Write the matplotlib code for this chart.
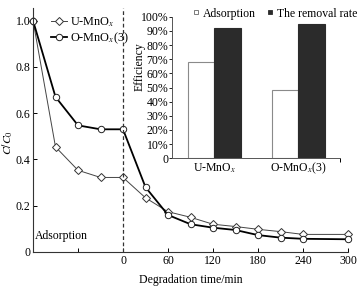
import numpy as np
import matplotlib
matplotlib.use('Agg')
import matplotlib.pyplot as plt
from matplotlib.lines import Line2D

plt.rcParams['font.family'] = ['Liberation Serif', 'DejaVu Serif']
plt.rcParams['mathtext.fontset'] = 'stix'
plt.rcParams['font.size'] = 8.5

# degradation curves
time = [-120, -90, -60, -30, 0, 30, 60, 90, 120, 150, 180, 210, 240, 300]
u_mnox = [1.0, 0.454, 0.353, 0.322, 0.322, 0.234, 0.174, 0.15, 0.12, 0.11, 0.098, 0.088, 0.076, 0.076]
o_mnox = [1.0, 0.67, 0.547, 0.53, 0.53, 0.28, 0.16, 0.12, 0.105, 0.095, 0.073, 0.062, 0.057, 0.055]

# inset bars
samples = ['U-MnO$_x$', 'O-MnO$_x$(3)']
adsorption = [68, 48.5]
removal = [92, 95]

fig = plt.figure(figsize=(3.63, 2.89), dpi=100)
ax = fig.add_axes([33/363, 1-252/289, 315/363, 244/289])

ax.plot(time, u_mnox, color='#444444', lw=0.7, marker='D', ms=3.6, mfc='white', mec='#333333', mew=0.7,
        label='U-MnO$_x$', clip_on=False)
ax.plot(time, o_mnox, color='black', lw=1.3, marker='o', ms=4.6, mfc='white', mec='#222222', mew=0.7,
        label='O-MnO$_x$(3)', clip_on=False)
ax.axvline(0, ls=(0, (3, 2)), color='#333333', lw=0.9)

ax.set_xlim(-120, 300)
ax.set_ylim(0, 1.054)
ax.set_xticks([-60, 0, 60, 120, 180, 240, 300])
ax.set_xticklabels(['', '0', '60', '120', '180', '240', '300'])
ax.set_yticks([0, 0.2, 0.4, 0.6, 0.8, 1.0])
ax.set_yticklabels(['0', '0.2', '0.4', '0.6', '0.8', '1.0'])
ax.tick_params(direction='in', length=3, width=0.7, pad=2, labelsize=8.5)
for s in ['top', 'right']:
    ax.spines[s].set_visible(False)
for s in ['left', 'bottom']:
    ax.spines[s].set_linewidth(0.8)
    ax.spines[s].set_color('#333333')
ax.set_xlabel('Degradation time/min', labelpad=5)
ax.set_ylabel('$C/C_0$')
ax.yaxis.set_label_coords(-0.058, 0.45)
ax.text(-117, 0.07, 'Adsorption', va='center')
ax.legend(loc='upper left', bbox_to_anchor=(0.035, 1.0), frameon=False, handlelength=1.3,
          handletextpad=0.2, labelspacing=0.15, borderaxespad=0.2, fontsize=8.8)

# inset
ins = fig.add_axes([172.3/363, 1-158.3/289, 168/363, 141.6/289])
pos = np.arange(len(samples))
w = 0.315
ins.bar(pos - w/2, adsorption, w, color='white', edgecolor='#8a8a8a', lw=0.8)
ins.bar(pos + w/2, removal, w, color='#2b2b2b', edgecolor='#2b2b2b', lw=0.8)
ins.set_xlim(-0.5, 1.5)
ins.set_ylim(0, 100)
ins.set_yticks(np.arange(0, 101, 10))
ins.set_yticklabels(['0'] + ['%d%%' % v for v in range(10, 101, 10)])
ins.set_xticks(pos)
ins.set_xticklabels(samples)
ins.set_xticks([1.5], minor=True)
ins.tick_params(axis='x', length=0, pad=2, labelsize=8.5)
ins.tick_params(axis='x', which='minor', length=3, direction='out', width=0.7)
ins.tick_params(axis='y', length=2, direction='out', width=0.6, pad=1, labelsize=8.5)
for s in ['top', 'right']:
    ins.spines[s].set_visible(False)
for s in ['left', 'bottom']:
    ins.spines[s].set_linewidth(0.7)
    ins.spines[s].set_color('#555555')
ins.set_ylabel('Efficiency')
ins.yaxis.set_label_coords(-0.16, 0.645)
handles = [Line2D([], [], ls='none', marker='s', ms=3.2, mfc='white', mec='#666666', mew=0.6),
           Line2D([], [], ls='none', marker='s', ms=3.2, mfc='#2b2b2b', mec='#2b2b2b', mew=0.6)]
fig.legend(handles, ['Adsorption', 'The removal rate'], loc='center', bbox_to_anchor=(0.758, 0.953),
           ncol=2, frameon=False, handlelength=0.5, handletextpad=0.3, columnspacing=1.0, borderpad=0)

fig.savefig('out.png', dpi=100)
